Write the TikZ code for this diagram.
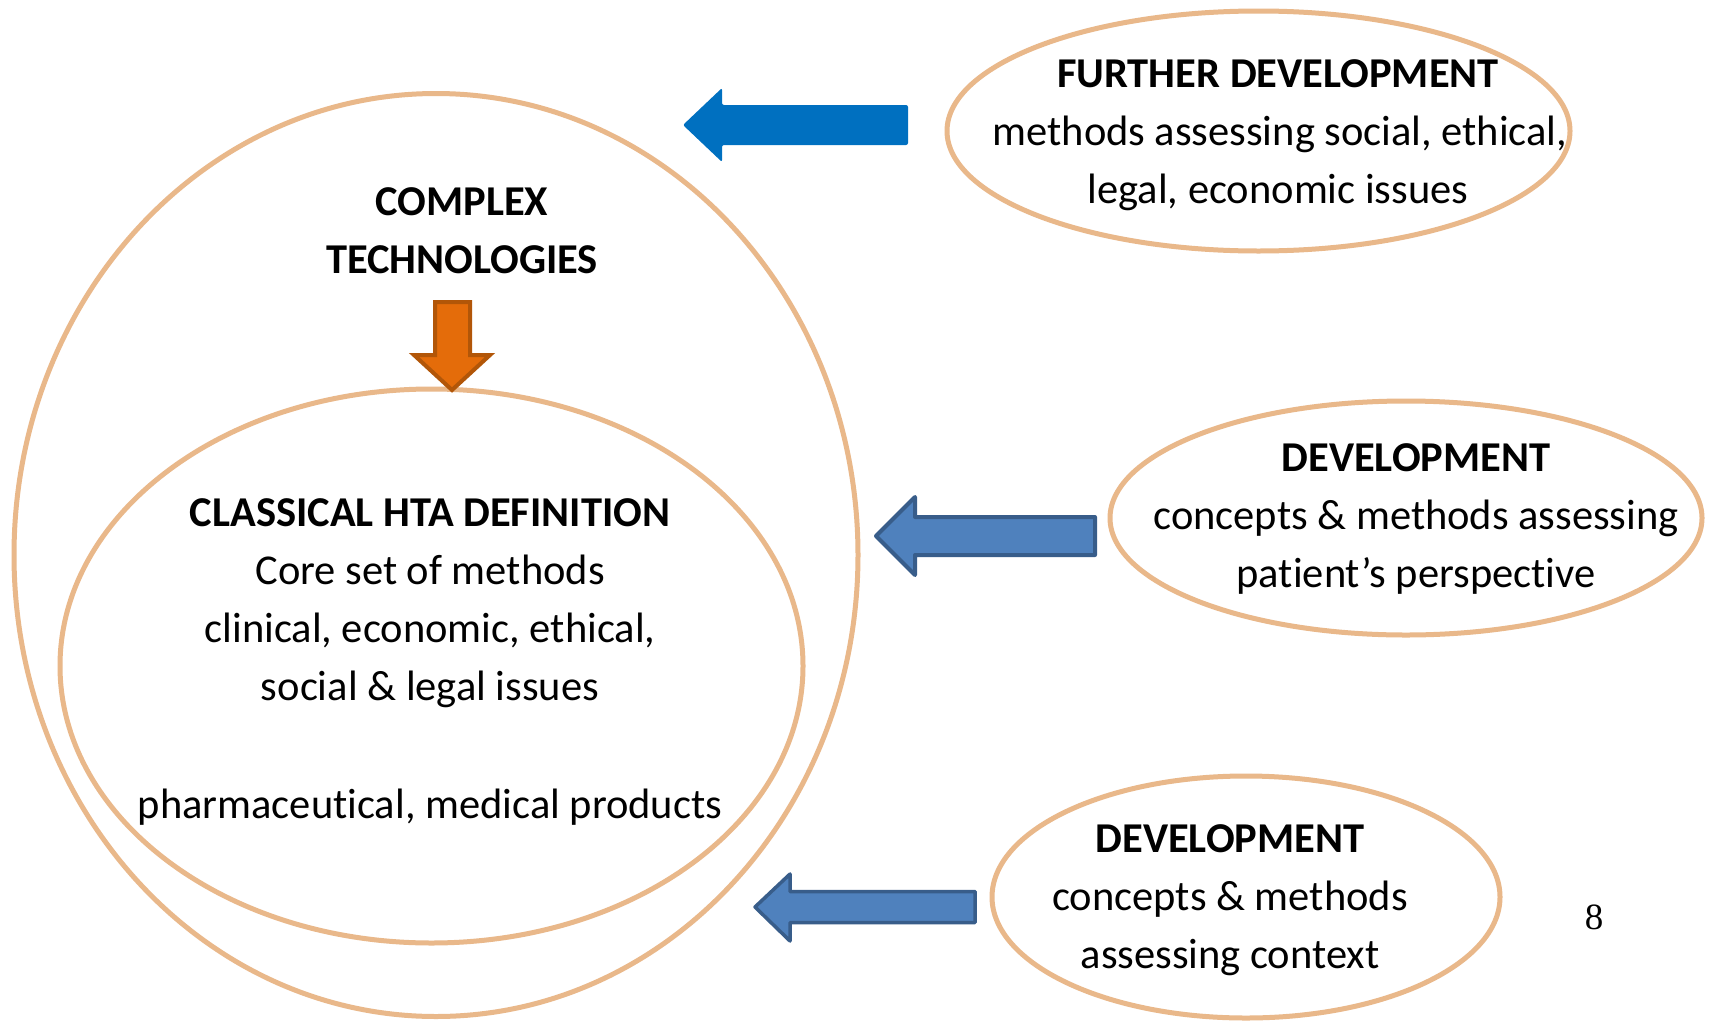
\documentclass[tikz,border=0pt]{standalone}
\usepackage{fontspec}
\setmainfont{Carlito}[Ligatures=NoCommon]
\newfontfamily\numfont{Liberation Serif}
\usetikzlibrary{shapes.geometric}
\definecolor{ring}{RGB}{233,184,138}
\definecolor{topblue}{RGB}{0,112,192}
\definecolor{midblue}{RGB}{79,129,189}
\definecolor{midblueedge}{RGB}{56,93,138}
\definecolor{orfill}{RGB}{228,108,10}
\definecolor{oredge}{RGB}{178,86,8}
\tikzset{
  ring/.style={ellipse, draw=ring, line width=5pt, inner sep=0pt, fill=none},
  txt/.style={anchor=base, inner sep=0pt, font=\fontsize{42.5}{58}\selectfont},
  btxt/.style={txt, font=\fontsize{42.5}{58}\selectfont\bfseries},
  bluearrow/.style={fill=midblue, draw=midblueedge, line width=4pt, line join=round},
}
\begin{document}
\begin{tikzpicture}[x=1pt,y=-1pt]
\useasboundingbox (0,0) rectangle (1710,1020);
\fill[white] (0,0) rectangle (1710,1020);
% ellipses
\node[ring, minimum width=844pt, minimum height=923pt] (outer) at (436,555) {};
\node[ring, minimum width=743pt, minimum height=554pt] (inner) at (431.5,666) {};
\node[ring, minimum width=623pt, minimum height=240pt] (e1) at (1258.5,131) {};
\node[ring, minimum width=592pt, minimum height=234pt] (e2) at (1406,518) {};
\node[ring, minimum width=508pt, minimum height=242pt] (e3) at (1246,897) {};
% arrows
\fill[topblue, rounded corners=2pt] (908,105) -- (722,105) -- (722,88) -- (683,125) -- (722,162) -- (722,145) -- (908,145) -- cycle;
\draw[bluearrow] (1095,517) -- (915,517) -- (915,497) -- (876,536) -- (915,575) -- (915,555) -- (1095,555) -- cycle;
\draw[bluearrow, line width=3.5pt] (975,891.5) -- (790,891.5) -- (790,874) -- (755,907) -- (790,941) -- (790,922.5) -- (975,922.5) -- cycle;
\draw[fill=orfill, draw=oredge, line width=4pt, line join=miter] (435,302) -- (470,302) -- (470,355) -- (490,355) -- (452,390) -- (414,355) -- (435,355) -- cycle;
% texts
\node[btxt] (f1) at (1278,87) {FURTHER DEVELOPMENT};
\node[txt] (f2) at (1280,145) {methods assessing social, ethical,};
\node[txt] (f3) at (1278,203) {legal, economic issues};
\node[btxt] (c1) at (462,215) {COMPLEX};
\node[btxt] (c2) at (462,273) {TECHNOLOGIES};
\node[btxt] (d1) at (1416,471) {DEVELOPMENT};
\node[txt] (d2) at (1416,529) {concepts \& methods assessing};
\node[txt] (d3) at (1416,587) {patient’s perspective};
\node[btxt] (h1) at (430,526) {CLASSICAL HTA DEFINITION};
\node[txt] (h2) at (430,584) {Core set of methods};
\node[txt] (h3) at (430,642) {clinical, economic, ethical,};
\node[txt] (h4) at (430,700) {social \& legal issues};
\node[txt] (h5) at (430,818) {pharmaceutical, medical products};
\node[btxt] (g1) at (1230,852) {DEVELOPMENT};
\node[txt] (g2) at (1230,910) {concepts \& methods};
\node[txt] (g3) at (1230,968) {assessing context};
\node[anchor=base, inner sep=0pt, font=\numfont\fontsize{37}{40}\selectfont] (pg) at (1594,929) {8};
\end{tikzpicture}
\end{document}
